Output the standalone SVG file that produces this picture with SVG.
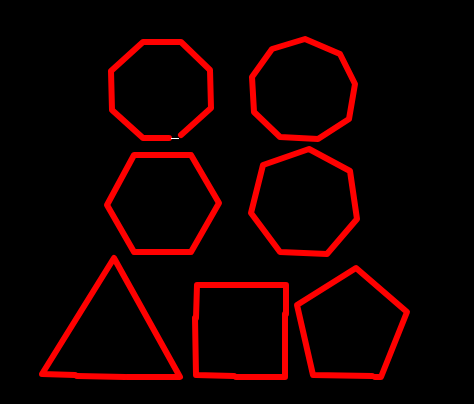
<svg xmlns="http://www.w3.org/2000/svg" width="474" height="404" viewBox="0 0 474 404">
<style>
.s{fill:none;stroke:#ff0000;stroke-width:6;stroke-linejoin:round;stroke-linecap:round}
.w{fill:none;stroke:#ffffff;stroke-width:1}
</style>
<rect x="0" y="0" width="474" height="404" fill="#000000"/>
<g id="octagon">
<polyline class="s" points="181,135 211,108 210,70 181,42 143,42 111,71 112,110 143,138 169,138"/>
<line class="w" x1="171" y1="138.5" x2="179" y2="138.5"/>
</g>
<g id="nonagon">
<polygon class="s" points="305,39 340,54 355,84 349,119 318,139 280,137 254,112 252,77 272,49"/>
</g>
<g id="hexagon">
<polygon class="s" points="134,155 191,155 219,203 191,252 134,252 107,205"/>
</g>
<g id="heptagon">
<polygon class="s" points="309,149 350,171 357,219 327,254 280,252 251,213 263,165"/>
</g>
<g id="triangle">
<polyline class="s" points="75,375 42,374 114,258 180,377 127,377"/>
<line class="s" x1="125" y1="377" x2="77" y2="376"/>
</g>
<g id="square">
<polyline class="s" points="234,376 196,375 195,318"/>
<polyline class="s" points="196,318 197,285 286,285 286,314"/>
<polyline class="s" points="285,314 285,377 236,377"/>
</g>
<g id="pentagon">
<polyline class="s" points="372,376 313,375 297,305 356,268 407,312 381,377 375,377"/>
</g>
</svg>
